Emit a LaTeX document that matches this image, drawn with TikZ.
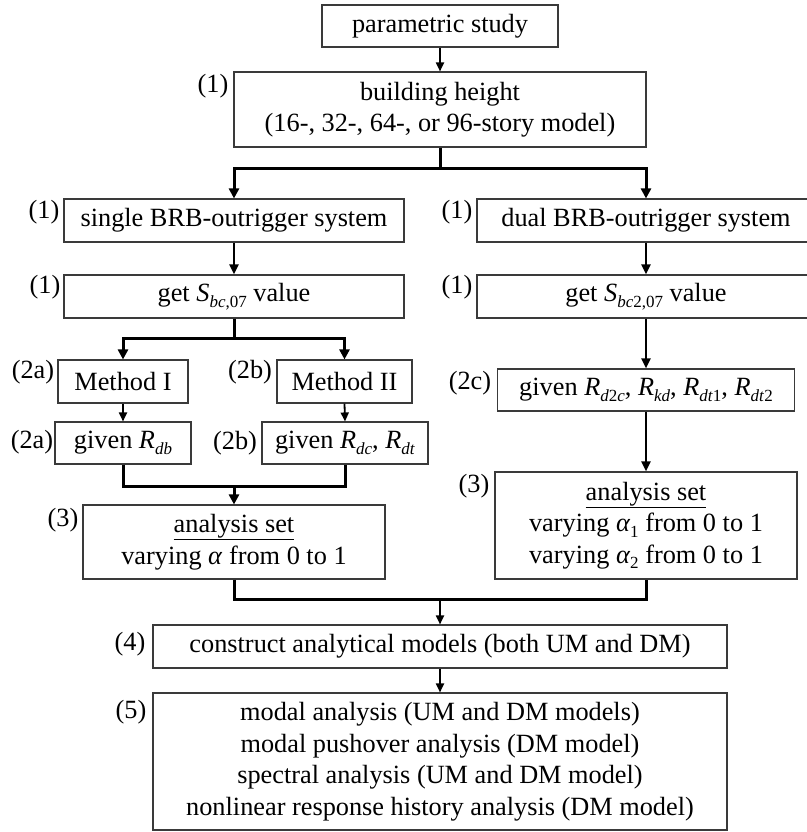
\documentclass[tikz,border=0pt]{standalone}
\usepackage{fontspec}
\setmainfont{Liberation Serif}
\usetikzlibrary{arrows.meta}
\definecolor{boxgray}{HTML}{3A3A3A}
\newcommand{\mainsize}{\fontsize{26.3}{31.5}\selectfont}
\newcommand{\lowsub}[1]{\raisebox{-5.5pt}{\fontsize{17}{17}\selectfont #1}}
\begin{document}
\begin{tikzpicture}[x=1pt,y=-1pt,
  flowbox/.style={draw=boxgray, line width=1.1pt, rectangle, inner sep=0pt, align=center, font=\mainsize},
  tag/.style={inner sep=0pt, font=\mainsize},
  linkthin/.style={line width=1.8pt, -{Triangle[length=9pt,width=8pt]}},
  linkmid/.style={line width=2.3pt, -{Triangle[length=10pt,width=9pt]}},
  branch/.style={line width=3pt},
  brancharrow/.style={line width=3pt, -{Triangle[length=10pt,width=10pt]}},
  branchboth/.style={line width=3pt, {Triangle[length=10pt,width=10pt]}-{Triangle[length=10pt,width=10pt]}}]
\useasboundingbox (0,0) rectangle (806,832);

% boxes
\node[flowbox, minimum width=236pt, minimum height=42pt] (param) at (440,26) {parametric study};
\node[flowbox, minimum width=412pt, minimum height=75pt] (building) at (440,109.5)
  {building height\\(16-, 32-, 64-, or 96-story model)};
\node[flowbox, minimum width=340pt, minimum height=43pt] (single) at (234,220.5) {single BRB-outrigger system};
\node[flowbox, minimum width=338pt, minimum height=43pt] (dual) at (646,220.5) {dual BRB-outrigger system};
\node[flowbox, minimum width=340pt, minimum height=43pt] (getL) at (234,296.5)
  {get \textit{S}\lowsub{\textit{bc},07} value};
\node[flowbox, minimum width=338pt, minimum height=43pt] (getR) at (646,296.5)
  {get \textit{S}\lowsub{\textit{bc}2,07} value};
\node[flowbox, minimum width=130pt, minimum height=43pt] (m1) at (123,381.5) {Method I};
\node[flowbox, minimum width=135pt, minimum height=43pt] (m2) at (344.5,381.5) {Method II};
\node[flowbox, minimum width=136pt, minimum height=42pt] (g1) at (123,443) {given \textit{R}\lowsub{\textit{db}}};
\node[flowbox, minimum width=166pt, minimum height=42pt] (g2) at (345,443)
  {given \textit{R}\lowsub{\textit{dc}}, \textit{R}\lowsub{\textit{dt}}};
\node[flowbox, minimum width=297pt, minimum height=42pt] (gR) at (646,390)
  {given \textit{R}\lowsub{\textit{d}2\textit{c}}, \textit{R}\lowsub{\textit{kd}}, \textit{R}\lowsub{\textit{dt}1}, \textit{R}\lowsub{\textit{dt}2}};
\node[flowbox, minimum width=302pt, minimum height=74pt] (anL) at (234,542)
  {\underline{analysis set}\\varying \textit{α} from 0 to 1};
\node[flowbox, minimum width=302pt, minimum height=107pt] (anR) at (646,525.5)
  {\underline{analysis set}\\varying \textit{α}\lowsub{1} from 0 to 1\\varying \textit{α}\lowsub{2} from 0 to 1};
\node[flowbox, minimum width=574pt, minimum height=43pt] (models) at (440,646.5)
  {construct analytical models (both UM and DM)};
\node[flowbox, minimum width=574pt, minimum height=137pt] (runs) at (440,761.5)
  {modal analysis (UM and DM models)\\modal pushover analysis (DM model)\\spectral analysis (UM and DM model)\\nonlinear response history analysis (DM model)};

% step numbers
\node[tag] (t1) at (213,86) {(1)};
\node[tag] (t2) at (44,212) {(1)};
\node[tag] (t3) at (457,212) {(1)};
\node[tag] (t4) at (45,287) {(1)};
\node[tag] (t5) at (457,287) {(1)};
\node[tag] (t6) at (33,372) {(2a)};
\node[tag] (t7) at (250,372) {(2b)};
\node[tag] (t8) at (32,442) {(2a)};
\node[tag] (t9) at (235,443) {(2b)};
\node[tag] (t10) at (470,383) {(2c)};
\node[tag] (t11) at (63,520) {(3)};
\node[tag] (t12) at (474,486) {(3)};
\node[tag] (t13) at (130,644) {(4)};
\node[tag] (t14) at (131,712) {(5)};

% junction points
\coordinate (j1) at (440,168);
\coordinate (j2) at (234,338);
\coordinate (j3) at (234,486);
\coordinate (j4) at (440,599);

% connectors
\draw[linkthin] (param.south) -- (building.north);
\draw[branch] (building.south) -- (j1);
\draw[branchboth] (single.north) |- (j1) -| (dual.north);
\draw[linkmid] (single.south) -- (getL.north);
\draw[linkmid] (dual.south) -- (getR.north);
\draw[branch] (getL.south) -- (j2);
\draw[branchboth] (m1.north) |- (j2) -| (m2.north);
\draw[linkthin] (m1.south) -- (g1.north);
\draw[linkthin] (m2.south) -- (g2.north);
\draw[branch] (g1.south) |- (j3) -| (g2.south);
\draw[brancharrow] (j3) -- (anL.north);
\draw[linkmid] (getR.south) -- (gR.north);
\draw[linkmid] (gR.south) -- (anR.north);
\draw[branch] (anL.south) |- (j4) -| (anR.south);
\draw[linkthin] (j4) -- (models.north);
\draw[linkthin] (models.south) -- (runs.north);
\end{tikzpicture}
\end{document}
